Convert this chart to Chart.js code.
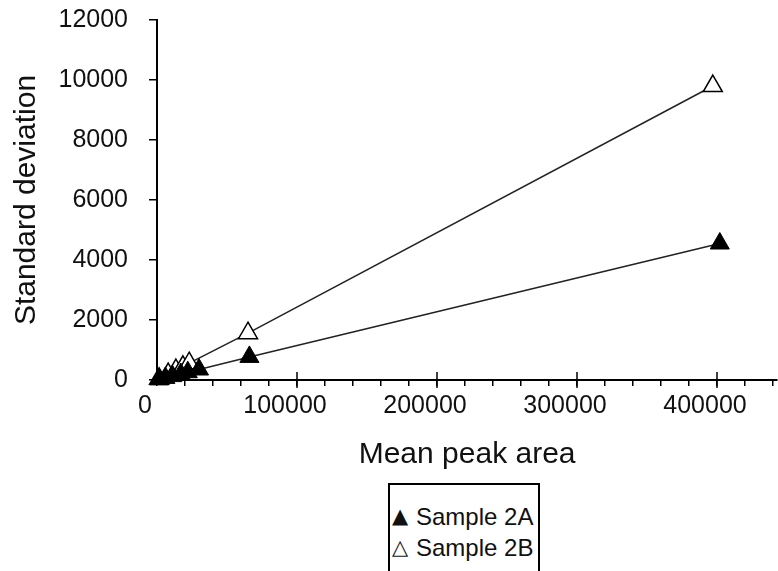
<!DOCTYPE html>
<html>
<head>
<meta charset="utf-8">
<script src="https://cdn.jsdelivr.net/npm/chart.js@4.4.0/dist/chart.umd.min.js"></script>
<style>
    html, body { margin: 0; padding: 0; background: #fff; }
    #wrap { position: relative; width: 778px; height: 571px; overflow: hidden; background: #fff; }
    #legend {
        position: absolute; left: 388px; top: 483px; width: 152px; height: 110px;
        border: 2px solid #000; box-sizing: border-box; background: #fff;
        font-family: "Liberation Sans", Arial, sans-serif; font-size: 24px; color: #111;
        padding-top: 16px;
    }
    .row { height: 31px; line-height: 31px; white-space: nowrap; }
    .mk { display: inline-block; width: 24px; margin-left: 2px; font-size: 21px; font-family: "DejaVu Sans", sans-serif; vertical-align: top; }
</style>
</head>
<body>
<div id="wrap">
    <canvas id="chart" width="778" height="571"></canvas>
    <div id="legend"></div>
</div>
<script>
// data
const seriesNames = ['Sample 2A', 'Sample 2B'];
const areaA = [1500, 6000, 11000, 17000, 22000, 30000, 66000, 402000];
const sdA = [20, 70, 130, 200, 260, 350, 770, 4550];
const areaB = [1500, 8000, 13500, 18500, 23000, 65000, 397000];
const sdB = [40, 200, 330, 440, 560, 1560, 9800];
const xTickLabels = [0, 100000, 200000, 300000, 400000];
const yTickLabels = [0, 2000, 4000, 6000, 8000, 10000, 12000];
const xMinorStep = 20000;
const xMax = 443000;

const FONT = '"Liberation Sans", Arial, sans-serif';

function toPoints(xs, ys) {
    return xs.map((x, i) => ({ x: x, y: ys[i] }));
}

// ticks crossing the x axis at the labelled values
const majorTicks = {
    id: 'majorTicks',
    afterDraw(chart) {
        const scale = chart.scales.x;
        const ctx = chart.ctx;
        const y0 = chart.chartArea.bottom;
        ctx.save();
        ctx.strokeStyle = '#000';
        ctx.lineWidth = 1.5;
        xTickLabels.forEach(v => {
            if (v === 0) return;
            const px = scale.getPixelForValue(v);
            ctx.beginPath();
            ctx.moveTo(px, y0 - 8);
            ctx.lineTo(px, y0 + 8);
            ctx.stroke();
        });
        ctx.restore();
    }
};

const ctx = document.getElementById('chart').getContext('2d');
const chart = new Chart(ctx, {
    type: 'scatter',
    data: {
        datasets: [{
            label: seriesNames[0],
            data: toPoints(areaA, sdA),
            showLine: true,
            borderColor: '#222',
            borderWidth: 1.5,
            pointStyle: 'triangle',
            pointRadius: 11,
            pointBackgroundColor: '#000',
            pointBorderColor: '#000',
            pointBorderWidth: 1,
            clip: false
        }, {
            label: seriesNames[1],
            data: toPoints(areaB, sdB),
            showLine: true,
            borderColor: '#222',
            borderWidth: 1.5,
            pointStyle: 'triangle',
            pointRadius: 11,
            pointBackgroundColor: '#fff',
            pointBorderColor: '#000',
            pointBorderWidth: 1.5,
            clip: false
        }]
    },
    options: {
        responsive: false,
        animation: false,
        devicePixelRatio: 1,
        layout: { autoPadding: false, padding: { top: 20, right: 0, bottom: 0, left: 0 } },
        plugins: {
            legend: { display: false },
            tooltip: { enabled: false }
        },
        scales: {
            x: {
                type: 'linear',
                position: 'bottom',
                min: 0,
                max: xMax,
                border: { color: '#000', width: 2 },
                grid: { drawOnChartArea: false, tickLength: 6, color: '#000', lineWidth: 1.5 },
                afterBuildTicks: scale => {
                    const t = [];
                    for (let v = 0; v <= xMax; v += xMinorStep) t.push({ value: v });
                    scale.ticks = t;
                },
                afterFit: scale => { scale.height = 191; },
                ticks: {
                    autoSkip: false,
                    maxRotation: 0,
                    padding: 5,
                    labelOffset: -12,
                    color: '#111',
                    font: { family: FONT, size: 25 },
                    callback: v => xTickLabels.includes(v) ? String(v) : ''
                },
                title: {
                    display: true,
                    text: 'Mean peak area',
                    color: '#111',
                    font: { family: FONT, size: 30 },
                    padding: { top: 0, bottom: 98 }
                }
            },
            y: {
                type: 'linear',
                min: 0,
                max: 12000,
                border: { color: '#000', width: 2 },
                grid: { drawOnChartArea: false, tickLength: 8, color: '#000', lineWidth: 1.5 },
                afterBuildTicks: scale => {
                    scale.ticks = yTickLabels.map(v => ({ value: v }));
                },
                afterFit: scale => {
                    scale.width = 157;
                    scale.paddingTop = 0;
                    scale.paddingBottom = 0;
                },
                ticks: {
                    padding: 21,
                    color: '#111',
                    font: { family: FONT, size: 25 },
                    callback: v => String(v)
                },
                title: {
                    display: true,
                    text: 'Standard deviation',
                    color: '#111',
                    font: { family: FONT, size: 30 },
                    padding: { top: 9, bottom: 0 }
                }
            }
        }
    },
    plugins: [majorTicks]
});

// legend box under the plot
const legendDiv = document.getElementById('legend');
const markers = ['\u25B2', '\u25B3'];
seriesNames.forEach((name, i) => {
    const row = document.createElement('div');
    row.className = 'row';
    row.innerHTML = `<span class="mk">${markers[i]}</span>${name}`;
    legendDiv.appendChild(row);
});
</script>
</body>
</html>
